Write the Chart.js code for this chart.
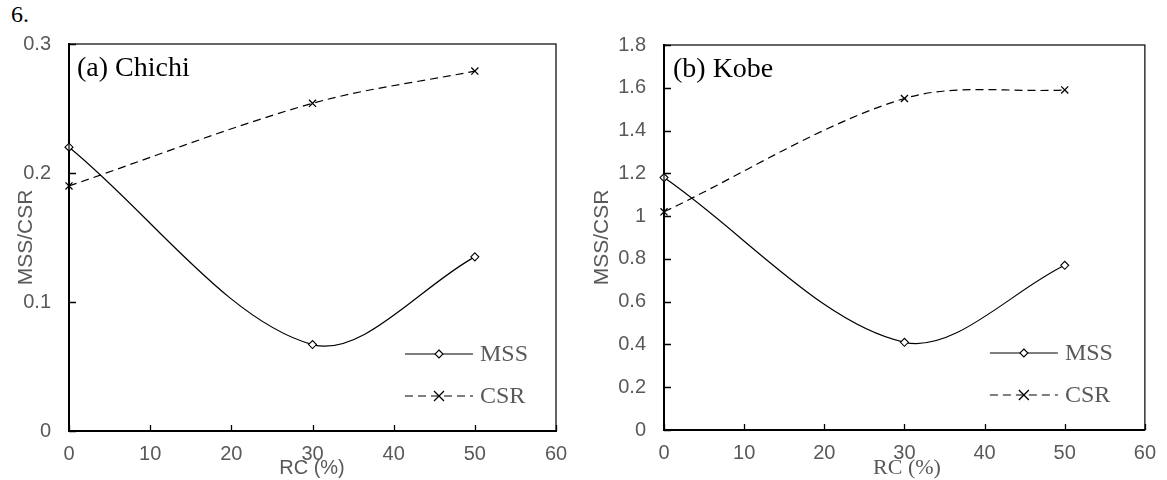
<!DOCTYPE html>
<html>
<head>
<meta charset="utf-8">
<script src="https://cdn.jsdelivr.net/npm/chart.js@4.4.0/dist/chart.umd.min.js"></script>
<style>
  body { margin: 0; background: #fff; width: 1167px; height: 480px; overflow: hidden; position: relative; }
  .panel { position: absolute; top: 0; height: 480px; }
  #figNo { position: absolute; left: 11px; top: 2px; font-family: 'Liberation Serif'; font-size: 24px; line-height: 24px; color: #000; }
</style>
</head>
<body>
<div id="figNo">6.</div>
<div class="panel" style="left:0;width:583px"><canvas id="chichiChart" width="583" height="480"></canvas></div>
<div class="panel" style="left:583px;width:584px"><canvas id="kobeChart" width="584" height="480"></canvas></div>
<script>
// replacement ratio RC (%) at which both records were run
const rcValues = [0, 30, 50];

// (a) Chichi
const chichiMss = [0.22, 0.067, 0.135];
const chichiCsr = [0.19, 0.254, 0.279];

// (b) Kobe
const kobeMss = [1.18, 0.41, 0.77];
const kobeCsr = [1.02, 1.55, 1.59];

const seriesNames = ['MSS', 'CSR'];
const xTicks = { min: 0, max: 60, step: 10 };

const SANS = "'Liberation Sans', Arial, sans-serif";
const SERIF = "'Liberation Serif', 'Times New Roman', serif";
const GREY = '#595959';
const SMOOTH = 0.33;

function drawDiamond(ctx, x, y, r) {
    ctx.beginPath();
    ctx.moveTo(x, y - r);
    ctx.lineTo(x + r, y);
    ctx.lineTo(x, y + r);
    ctx.lineTo(x - r, y);
    ctx.closePath();
    ctx.fillStyle = '#fff';
    ctx.fill();
    ctx.setLineDash([]);
    ctx.lineWidth = 1.1;
    ctx.stroke();
}

function drawCross(ctx, x, y, r) {
    ctx.beginPath();
    ctx.moveTo(x - r, y - r); ctx.lineTo(x + r, y + r);
    ctx.moveTo(x + r, y - r); ctx.lineTo(x - r, y + r);
    ctx.setLineDash([]);
    ctx.lineWidth = 1.3;
    ctx.stroke();
}

// frame, inward tick marks, panel label, axis titles and in-plot legend
const figureDecor = {
    id: 'figureDecor',
    afterDraw(chart, args, opts) {
        const { ctx, chartArea: a, scales: { x, y } } = chart;
        ctx.save();
        ctx.strokeStyle = '#000';
        ctx.setLineDash([]);
        ctx.lineWidth = 1.2;
        ctx.strokeRect(a.left, a.top, a.right - a.left, a.bottom - a.top);

        ctx.lineWidth = 1.3;
        ctx.beginPath();
        x.ticks.forEach(t => {
            const px = Math.round(x.getPixelForValue(t.value)) + 0.5;
            ctx.moveTo(px, a.bottom); ctx.lineTo(px, a.bottom - 6);
        });
        y.ticks.forEach(t => {
            const py = Math.round(y.getPixelForValue(t.value)) + 0.5;
            ctx.moveTo(a.left, py); ctx.lineTo(a.left + 7, py);
        });
        ctx.stroke();

        ctx.fillStyle = '#000';
        ctx.font = '28px ' + SERIF;
        ctx.textAlign = 'left';
        ctx.textBaseline = 'alphabetic';
        ctx.fillText(opts.label, a.left + opts.labelDx, a.top + 32);

        ctx.fillStyle = GREY;
        ctx.save();
        ctx.translate(opts.yTitleX, (a.top + a.bottom) / 2);
        ctx.rotate(-Math.PI / 2);
        ctx.font = '21px ' + SANS;
        ctx.textAlign = 'center';
        ctx.textBaseline = 'middle';
        ctx.fillText('MSS/CSR', 0, 0);
        ctx.restore();

        ctx.font = opts.xTitleFont;
        ctx.textAlign = 'center';
        ctx.textBaseline = 'middle';
        ctx.fillText('RC (%)', a.left + 243, 468);

        const x0 = a.right - opts.legendLeft, x1 = a.right - opts.legendRight;
        const xm = (x0 + x1) / 2;
        chart.data.datasets.forEach((ds, i) => {
            const ly = a.bottom - [77, 35][i];
            ctx.strokeStyle = '#000';
            ctx.lineWidth = 1.2;
            ctx.setLineDash(ds.borderDash || []);
            ctx.beginPath();
            ctx.moveTo(x0, ly); ctx.lineTo(x1, ly);
            ctx.stroke();
            if (ds.pointStyle === 'rectRot') drawDiamond(ctx, xm, ly, 4);
            else drawCross(ctx, xm, ly, 5);
            ctx.fillStyle = GREY;
            ctx.font = '24px ' + SERIF;
            ctx.textAlign = 'left';
            ctx.textBaseline = 'middle';
            ctx.fillText(ds.label, x1 + 7, ly + 1);
        });
        ctx.restore();
    }
};

function makeChart(id, mss, csr, yMax, yStep, area, decor) {
    const pts = vals => rcValues.map((rc, i) => ({ x: rc, y: vals[i] }));
    const canvas = document.getElementById(id);
    const W = canvas.width, H = canvas.height;
    return new Chart(canvas.getContext('2d'), {
        type: 'line',
        data: {
            datasets: [
                {
                    label: seriesNames[0], data: pts(mss),
                    borderColor: '#000', borderWidth: 1.2, tension: SMOOTH,
                    pointStyle: 'rectRot', pointRadius: 4, pointBorderWidth: 1.1,
                    pointBackgroundColor: '#fff', pointBorderColor: '#000', clip: 12
                },
                {
                    label: seriesNames[1], data: pts(csr),
                    borderColor: '#000', borderWidth: 1.2, borderDash: [8, 5], tension: SMOOTH,
                    pointStyle: 'crossRot', pointRadius: 5, pointBorderWidth: 1.3,
                    pointBorderColor: '#000', clip: 12
                }
            ]
        },
        options: {
            responsive: false,
            animation: false,
            events: [],
            layout: { padding: { left: 0, top: area.top, right: W - area.right, bottom: 0 } },
            plugins: { legend: { display: false }, tooltip: { enabled: false }, figureDecor: decor },
            scales: {
                x: {
                    type: 'linear', min: xTicks.min, max: xTicks.max,
                    afterFit: s => { s.height = H - area.bottom; },
                    ticks: { stepSize: xTicks.step, color: GREY, padding: 11, maxRotation: 0, font: { family: SANS, size: 20 } },
                    grid: { display: false, drawTicks: false },
                    border: { color: '#000', width: 2 }
                },
                y: {
                    min: 0, max: yMax,
                    afterFit: s => { s.width = area.left; },
                    ticks: {
                        stepSize: yStep, color: GREY, padding: 18, font: { family: SANS, size: 20 },
                        callback: v => String(Number(v.toFixed(2)))
                    },
                    grid: { display: false, drawTicks: false },
                    border: { color: '#000', width: 2 }
                }
            }
        },
        plugins: [figureDecor]
    });
}

makeChart('chichiChart', chichiMss, chichiCsr, 0.3, 0.1,
    { left: 69, right: 556, top: 44, bottom: 431 },
    { label: '(a) Chichi', labelDx: 8, yTitleX: 26, xTitleFont: '20px ' + SANS, legendLeft: 151, legendRight: 83 });

makeChart('kobeChart', kobeMss, kobeCsr, 1.8, 0.2,
    { left: 81, right: 564, top: 45, bottom: 430 },
    { label: '(b) Kobe', labelDx: 9, yTitleX: 19, xTitleFont: '22px ' + SERIF, legendLeft: 155, legendRight: 87 });
</script>
</body>
</html>
